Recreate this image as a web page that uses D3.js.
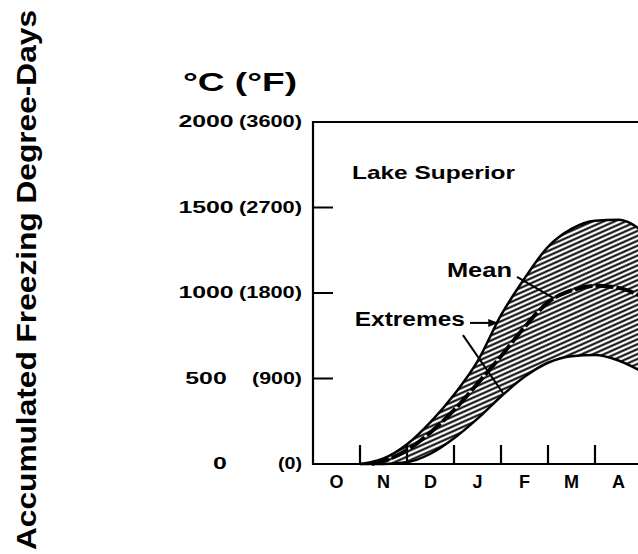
<!DOCTYPE html>
<html lang="en">
<head>
	<meta charset="UTF-8">
	<title>Accumulated Freezing Degree-Days - Lake Superior</title>
	<script src="https://d3js.org/d3.v7.min.js"></script>
	<style>
		body {
			margin: 0;
			background: #fff;
		}
		svg {
			display: block;
			font-family: "Liberation Sans", Arial, sans-serif;
			font-weight: bold;
		}
		.axis-line {
			fill: none;
			stroke: #000;
			stroke-width: 2.2;
		}
		.edge {
			fill: none;
			stroke: #000;
			stroke-width: 2.5;
		}
		.mean {
			fill: none;
			stroke: #000;
			stroke-width: 4;
			stroke-dasharray: 18, 3;
		}
		.leader {
			stroke: #000;
			stroke-width: 2;
		}
	</style>
</head>
<body>

<script>
	// months (x is months since 1 October)
	var months = ['O', 'N', 'D', 'J', 'F', 'M', 'A'];

	// y ticks, degree-days
	var yTicks = [0, 500, 1000, 1500, 2000];
	var fTicks = ['(0)', '(900)', '(1800)', '(2700)', '(3600)'];

	// accumulated freezing degree-days
	var monthPos = [1.0, 1.25, 1.5, 2.0, 2.5, 3.0, 3.5, 4.0, 4.5, 5.0, 5.5, 6.0, 6.5, 7.0];
	var upperExt = [0, 12, 32, 115, 245, 405, 600, 870, 1085, 1270, 1375, 1422, 1428, 1365];
	var meanVals = [0, 0, 18, 80, 185, 315, 470, 630, 800, 945, 1015, 1042, 1030, 978];
	var lowerExt = [0, 0, 0, 10, 60, 150, 265, 395, 510, 592, 630, 637, 605, 540];

	var width = 638,
		height = 554;

	var x = d3.scaleLinear().domain([0, 7]).range([313, 642]);
	var y = d3.scaleLinear().domain([0, 2000]).range([464, 122]);

	var svg = d3.select('body').append('svg')
		.attr('width', width)
		.attr('height', height);

	// hatching for the band between the extremes
	var defs = svg.append('defs');
	defs.append('pattern')
		.attr('id', 'hatch')
		.attr('patternUnits', 'userSpaceOnUse')
		.attr('width', 4.5)
		.attr('height', 4.5)
		.attr('patternTransform', 'rotate(-24)')
		.append('line')
		.attr('x1', -2).attr('y1', 2.25)
		.attr('x2', 7).attr('y2', 2.25)
		.attr('stroke', '#000')
		.attr('stroke-width', 2);

	defs.append('marker')
		.attr('id', 'arrow')
		.attr('viewBox', '0 0 10 10')
		.attr('refX', 9).attr('refY', 5)
		.attr('markerWidth', 5).attr('markerHeight', 5)
		.attr('orient', 'auto')
		.append('path')
		.attr('d', 'M0,1 L10,5 L0,9 Z')
		.attr('fill', '#000');

	var rows = monthPos.map(function (m, i) {
		return { m: m, hi: upperExt[i], mean: meanVals[i], lo: lowerExt[i] };
	});

	var area = d3.area()
		.curve(d3.curveMonotoneX)
		.x(function (d) { return x(d.m); })
		.y0(function (d) { return y(d.lo); })
		.y1(function (d) { return y(d.hi); });

	var lineHi = d3.line().curve(d3.curveMonotoneX)
		.x(function (d) { return x(d.m); })
		.y(function (d) { return y(d.hi); });
	var lineLo = d3.line().curve(d3.curveMonotoneX)
		.x(function (d) { return x(d.m); })
		.y(function (d) { return y(d.lo); });
	var lineMean = d3.line().curve(d3.curveMonotoneX)
		.x(function (d) { return x(d.m); })
		.y(function (d) { return y(d.mean); });

	svg.append('path').datum(rows)
		.attr('d', area)
		.attr('fill', 'url(#hatch)');
	svg.append('path').datum(rows).attr('class', 'edge').attr('d', lineHi);
	svg.append('path').datum(rows).attr('class', 'edge').attr('d', lineLo);
	svg.append('path').datum(rows.filter(function (d) { return d.m >= 1.25; }))
		.attr('class', 'mean').attr('d', lineMean);

	// frame: left axis, bottom axis, top line (right side is cut off)
	svg.append('path')
		.attr('class', 'axis-line')
		.attr('d', 'M' + x(7) + ',' + y(2000) + 'H' + x(0) + 'V' + y(0) + 'H' + x(7));

	// y ticks pointing inward
	svg.selectAll('.ytick')
		.data(yTicks.filter(function (v) { return v > 0 && v < 2000; }))
		.enter().append('line')
		.attr('class', 'leader')
		.attr('x1', x(0)).attr('x2', x(0) + 20)
		.attr('y1', function (d) { return y(d); })
		.attr('y2', function (d) { return y(d); })
		.attr('stroke-width', 2.2);

	// month boundary ticks pointing up
	svg.selectAll('.xtick')
		.data(d3.range(1, 7))
		.enter().append('line')
		.attr('x1', function (d) { return x(d); })
		.attr('x2', function (d) { return x(d); })
		.attr('y1', y(0)).attr('y2', y(0) - 19)
		.attr('stroke', '#000')
		.attr('stroke-width', 2.2);

	// month labels
	svg.selectAll('.mlabel')
		.data(months)
		.enter().append('text')
		.attr('x', function (d, i) { return x(i + 0.5); })
		.attr('y', 488)
		.attr('text-anchor', 'middle')
		.style('font-size', '18px')
		.text(function (d) { return d; });

	// y labels, Celsius and Fahrenheit
	svg.selectAll('.clabel')
		.data(yTicks)
		.enter().append('text')
		.attr('x', function (d) { return d === 0 ? 220 : 206; })
		.attr('y', function (d) { return y(d) + 5; })
		.attr('text-anchor', 'middle')
		.style('font-size', '16px')
		.attr('textLength', function (d) { return String(d).length * 13.8; })
		.attr('lengthAdjust', 'spacingAndGlyphs')
		.text(function (d) { return d; });

	svg.selectAll('.flabel')
		.data(fTicks)
		.enter().append('text')
		.attr('x', 302)
		.attr('y', function (d, i) { return y(yTicks[i]) + 5; })
		.attr('text-anchor', 'end')
		.style('font-size', '16px')
		.attr('textLength', function (d) { return (d.length - 2) * 13 + 11; })
		.attr('lengthAdjust', 'spacingAndGlyphs')
		.text(function (d) { return d; });

	svg.append('text')
		.attr('x', 183).attr('y', 91)
		.style('font-size', '26px')
		.attr('textLength', 114)
		.attr('lengthAdjust', 'spacingAndGlyphs')
		.text('°C (°F)');

	// y axis title
	svg.append('text')
		.attr('transform', 'translate(36,550) rotate(-90)')
		.style('font-size', '28px')
		.attr('textLength', 540)
		.attr('lengthAdjust', 'spacingAndGlyphs')
		.text('Accumulated Freezing Degree-Days');

	// annotations
	svg.append('text')
		.attr('x', x(0.83)).attr('y', y(1665))
		.style('font-size', '19px')
		.attr('textLength', 163)
		.attr('lengthAdjust', 'spacingAndGlyphs')
		.text('Lake Superior');

	svg.append('text')
		.attr('x', x(2.85)).attr('y', y(1095))
		.style('font-size', '20px')
		.attr('textLength', 65)
		.attr('lengthAdjust', 'spacingAndGlyphs')
		.text('Mean');

	svg.append('text')
		.attr('x', x(0.89)).attr('y', y(805))
		.style('font-size', '20px')
		.attr('textLength', 110)
		.attr('lengthAdjust', 'spacingAndGlyphs')
		.text('Extremes');

	svg.append('line').attr('class', 'leader')
		.attr('x1', x(4.34)).attr('y1', y(1094))
		.attr('x2', x(5.11)).attr('y2', y(971));

	svg.append('line').attr('class', 'leader')
		.attr('x1', x(3.34)).attr('y1', y(825))
		.attr('x2', x(3.92)).attr('y2', y(825))
		.attr('marker-end', 'url(#arrow)');

	svg.append('line').attr('class', 'leader')
		.attr('x1', x(3.19)).attr('y1', y(754))
		.attr('x2', x(4.04)).attr('y2', y(415));
</script>

</body>
</html>
